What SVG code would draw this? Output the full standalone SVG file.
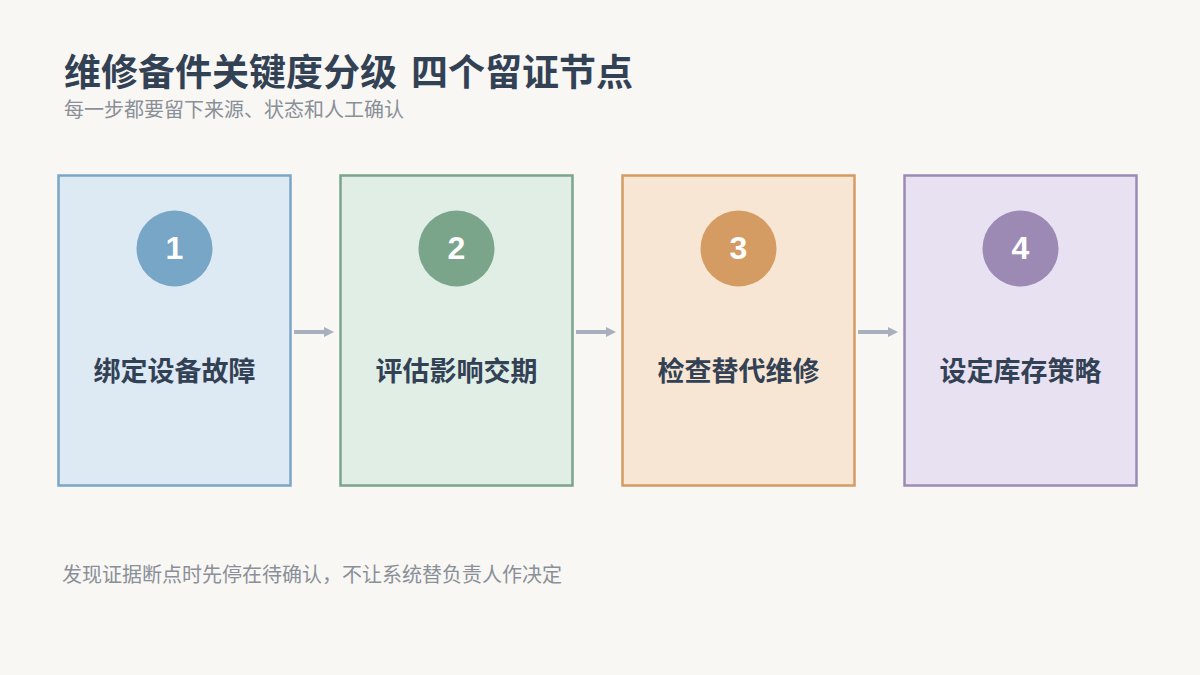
<svg xmlns="http://www.w3.org/2000/svg" width="1200" height="675" viewBox="0 0 1200 675">
<defs>
<style>
text{font-family:"Noto Sans CJK SC","Liberation Sans",sans-serif}
.title{font-size:37px;font-weight:700;fill:#334155}
.sub{font-size:20px;fill:#8a8f98}
.foot{font-size:20px;fill:#8a8f98}
.lbl{font-size:27px;font-weight:700;fill:#334155;text-anchor:middle}
.num{font-family:"Liberation Sans",Arial,sans-serif;font-size:32px;font-weight:700;fill:#ffffff;text-anchor:middle}
.box{stroke-width:2.5}
.conn{stroke:#a7b0bc;stroke-width:4;fill:none}
</style>
<marker id="ah" viewBox="0 0 10 10" refX="2" refY="5" markerWidth="2.5" markerHeight="2.5" orient="auto" markerUnits="strokeWidth">
<path d="M0,0 L10,5 L0,10 z" fill="#a7b0bc"/>
</marker>
</defs>
<rect width="1200" height="675" fill="#f8f7f4"/>
<text class="title" x="64" y="86">维修备件关键度分级<tspan x="411">四个留证节点</tspan></text>
<text class="sub" x="64" y="117">每一步都要留下来源、状态和人工确认</text>

<g id="connectors">
<line class="conn" x1="294" y1="332" x2="326" y2="332" marker-end="url(#ah)"/>
<line class="conn" x1="576" y1="332" x2="608" y2="332" marker-end="url(#ah)"/>
<line class="conn" x1="858" y1="332" x2="890" y2="332" marker-end="url(#ah)"/>
</g>

<g id="node1">
<rect class="box" x="58.5" y="175.5" width="232" height="310" fill="#dde9f3" stroke="#79a6c6"/>
<circle cx="174.5" cy="248.5" r="38" fill="#78a6c6"/>
<text class="num" x="174.5" y="259">1</text>
<text class="lbl" x="174.5" y="381">绑定设备故障</text>
</g>
<g id="node2">
<rect class="box" x="340.5" y="175.5" width="232" height="310" fill="#e0eee6" stroke="#7aa58b"/>
<circle cx="456.5" cy="248.5" r="38" fill="#7aa58b"/>
<text class="num" x="456.5" y="259">2</text>
<text class="lbl" x="456.5" y="381">评估影响交期</text>
</g>
<g id="node3">
<rect class="box" x="622.5" y="175.5" width="232" height="310" fill="#f7e6d3" stroke="#d49c63"/>
<circle cx="738.5" cy="248.5" r="38" fill="#d49c63"/>
<text class="num" x="738.5" y="259">3</text>
<text class="lbl" x="738.5" y="381">检查替代维修</text>
</g>
<g id="node4">
<rect class="box" x="904.5" y="175.5" width="232" height="310" fill="#e8e1f2" stroke="#9c8ab5"/>
<circle cx="1020.5" cy="248.5" r="38" fill="#9c8ab5"/>
<text class="num" x="1020.5" y="259">4</text>
<text class="lbl" x="1020.5" y="381">设定库存策略</text>
</g>

<text class="foot" x="62" y="582">发现证据断点时先停在待确认，不让系统替负责人作决定</text>
</svg>
